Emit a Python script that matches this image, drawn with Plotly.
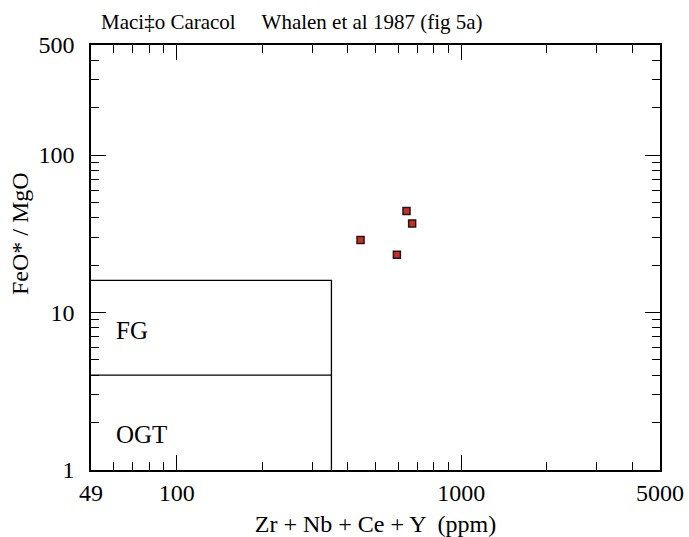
import math
import plotly.graph_objects as go

# ---- data ----
sample_sum_ppm = [642.6, 672.6, 443.0, 594.5]        # Zr + Nb + Ce + Y
sample_feo_mgo = [44.1, 36.8, 28.9, 23.3]            # FeO* / MgO

fg_x_limit = 350      # Zr+Nb+Ce+Y boundary
fg_y_limit = 16       # FeO*/MgO upper boundary of FG field
ogt_y_limit = 4       # FeO*/MgO boundary FG / OGT

x_min, x_max = 50, 5000
y_min, y_max = 1, 500

x_tick_vals = [50, 100, 1000, 5000]
x_tick_text = ["49", "100", "1000", "5000"]
x_minor_vals = [60, 70, 80, 90, 200, 300, 400, 500, 600, 700, 800, 900, 2000, 3000, 4000]
y_tick_vals = [1, 10, 100, 500]
y_tick_text = ["1", "10", "100", "500"]
y_minor_vals = [2, 3, 4, 5, 6, 7, 8, 9, 20, 30, 40, 50, 60, 70, 80, 90, 200, 300, 400]

field_labels = ["FG", "OGT"]
field_label_x = [60, 60]
field_label_y = [7.65, 1.69]

title_text = "Maci\u2021o Caracol     Whalen et al 1987 (fig 5a)"
x_title = "Zr + Nb + Ce + Y  (ppm)"
y_title = "FeO* / MgO"

FONT = "Liberation Serif"
W, H = 689, 537
ML, MR, MT, MB = 91, 29, 45, 67

fig = go.Figure()

line_style = dict(color="black", width=1.3)
fig.add_trace(go.Scatter(x=[x_min, fg_x_limit, fg_x_limit], y=[fg_y_limit, fg_y_limit, y_min],
                         mode="lines", line=line_style, hoverinfo="skip", showlegend=False))
fig.add_trace(go.Scatter(x=[x_min, fg_x_limit], y=[ogt_y_limit, ogt_y_limit],
                         mode="lines", line=line_style, hoverinfo="skip", showlegend=False))

fig.add_trace(go.Scatter(x=sample_sum_ppm, y=sample_feo_mgo, mode="markers",
                         marker=dict(symbol="square", size=7, color="#d42a22",
                                     line=dict(color="#1a1a1a", width=1.5)),
                         showlegend=False))

for t, xv, yv in zip(field_labels, field_label_x, field_label_y):
    fig.add_annotation(x=math.log10(xv), y=math.log10(yv), xref="x", yref="y", text=t,
                       showarrow=False, xanchor="left", yanchor="middle",
                       font=dict(family=FONT, size=25, color="black"))

# y-axis title (placed as rotated text, slightly above the plot centre as in the reference)
plot_h = H - MT - MB
plot_w = W - ML - MR
fig.add_annotation(x=(20 - ML) / plot_w, y=(H - MB - 234) / plot_h, xref="paper", yref="paper",
                   text=y_title, showarrow=False, textangle=-90,
                   xanchor="center", yanchor="middle",
                   font=dict(family=FONT, size=24, color="black"))

axis_common = dict(showgrid=False, zeroline=False, showline=True, linecolor="black",
                   linewidth=1.5, mirror="ticks", ticks="inside", ticklen=15,
                   tickwidth=1.3, tickcolor="black", automargin=False,
                   tickfont=dict(family=FONT, size=24, color="black"))

fig.update_xaxes(type="log", range=[math.log10(x_min), math.log10(x_max)],
                 tickmode="array", tickvals=x_tick_vals, ticktext=x_tick_text,
                 minor=dict(tickmode="array", tickvals=x_minor_vals, ticks="inside",
                            ticklen=8, tickwidth=1.3, tickcolor="black", showgrid=False),
                 title=dict(text=x_title, font=dict(family=FONT, size=24, color="black"),
                            standoff=12),
                 **axis_common)
fig.update_yaxes(type="log", range=[math.log10(y_min), math.log10(y_max)],
                 tickmode="array", tickvals=y_tick_vals, ticktext=y_tick_text,
                 ticklabelstandoff=10,
                 minor=dict(tickmode="array", tickvals=y_minor_vals, ticks="inside",
                            ticklen=8, tickwidth=1.3, tickcolor="black", showgrid=False),
                 **axis_common)

fig.update_layout(
    width=W, height=H,
    margin=dict(l=ML, r=MR, t=MT, b=MB, pad=0, autoexpand=False),
    paper_bgcolor="white", plot_bgcolor="white",
    title=dict(text=title_text, x=101 / W, xanchor="left", xref="container",
               y=1 - 22 / H, yanchor="middle", yref="container",
               font=dict(family=FONT, size=21, color="black")),
)

fig.write_html("out.html",
               config={"displayModeBar": False},
               post_script="document.body.style.margin='0';document.body.style.overflow='hidden';")
